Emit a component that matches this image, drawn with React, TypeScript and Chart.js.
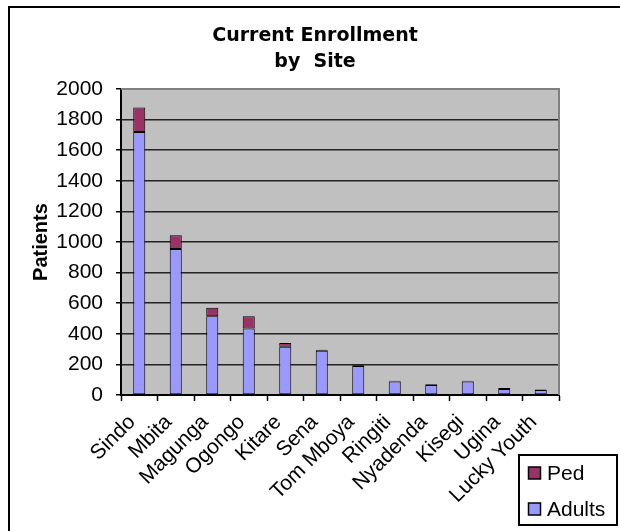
import { useEffect, useRef } from "react";
import { Chart, registerables } from "chart.js";

Chart.register(...registerables);

const sites = [
  "Sindo",
  "Mbita",
  "Magunga",
  "Ogongo",
  "Kitare",
  "Sena",
  "Tom Mboya",
  "Ringiti",
  "Nyadenda",
  "Kisegi",
  "Ugina",
  "Lucky Youth",
];
const adults = [1720, 955, 515, 435, 315, 290, 190, 88, 65, 88, 40, 32];
const ped = [160, 90, 55, 80, 25, 5, 5, 5, 5, 5, 6, 4];
const titleLines = ["Current Enrollment", "by  Site"];
const yAxisTitle = "Patients";
const yMin = 0;
const yMax = 2000;
const yStep = 200;

const ARIAL = "'Liberation Sans', Arial, sans-serif";

const plotFrame = {
  id: "plotFrame",
  beforeDraw(chart: any) {
    const { ctx, chartArea: a } = chart;
    ctx.save();
    ctx.fillStyle = "#C0C0C0";
    ctx.fillRect(a.left, a.top, a.right - a.left, a.bottom - a.top);
    ctx.restore();
  },
  beforeDatasetsDraw(chart: any) {
    const { ctx, chartArea: a } = chart;
    ctx.save();
    ctx.strokeStyle = "#808080";
    ctx.lineWidth = 2;
    ctx.beginPath();
    ctx.moveTo(a.left, a.top);
    ctx.lineTo(a.right, a.top);
    ctx.lineTo(a.right, a.bottom);
    ctx.stroke();
    ctx.restore();
  },
};

const boxLegend = {
  id: "boxLegend",
  afterDraw(chart: any) {
    const { ctx } = chart;
    const x = chart.width - 101;
    const y = chart.height - 76;
    const w = 98;
    const h = 70;
    ctx.save();
    ctx.fillStyle = "#fff";
    ctx.fillRect(x, y, w, h);
    ctx.strokeStyle = "#000";
    ctx.lineWidth = 2;
    ctx.strokeRect(x, y, w, h);
    const items = chart.data.datasets.slice().reverse();
    items.forEach((ds: any, i: number) => {
      const cy = y + 18 + i * 36;
      ctx.fillStyle = ds.backgroundColor;
      ctx.fillRect(x + 9.5, cy - 6, 12, 12);
      ctx.strokeStyle = "#000";
      ctx.lineWidth = 1.5;
      ctx.strokeRect(x + 9.5, cy - 6, 12, 12);
      ctx.fillStyle = "#000";
      ctx.font = `21px ${ARIAL}`;
      ctx.textBaseline = "middle";
      ctx.textAlign = "left";
      ctx.fillText(ds.label, x + 28, cy + 1);
    });
    ctx.restore();
  },
};

export default function App() {
  const ref = useRef<HTMLCanvasElement | null>(null);

  useEffect(() => {
    if (!ref.current) return;
    const chart = new Chart(ref.current, {
      type: "bar",
      data: {
        labels: sites,
        datasets: [
          {
            label: "Adults",
            data: adults,
            backgroundColor: "#9999FF",
            borderColor: "#000",
            borderWidth: 1,
            borderSkipped: false,
            categoryPercentage: 1,
            barPercentage: 0.33,
          },
          {
            label: "Ped",
            data: ped,
            backgroundColor: "#993366",
            borderColor: "#000",
            borderWidth: 1,
            borderSkipped: false,
            categoryPercentage: 1,
            barPercentage: 0.33,
          },
        ],
      },
      options: {
        animation: false,
        responsive: false,
        maintainAspectRatio: false,
        layout: { padding: { left: 0, right: 0, top: 0, bottom: 0 } },
        plugins: {
          legend: { display: false },
          tooltip: { enabled: false },
          title: {
            display: true,
            text: titleLines,
            color: "#000",
            font: { family: "'DejaVu Sans', sans-serif", size: 19, weight: "bold", lineHeight: 1.37 },
            padding: { top: 15, bottom: 14 },
          },
        },
        scales: {
          x: {
            stacked: true,
            afterFit(scale: any) {
              scale.height = 136;
            },
            grid: {
              display: true,
              drawOnChartArea: false,
              drawTicks: true,
              tickLength: 6,
              tickColor: "#000",
              tickWidth: 1.5,
              offset: true,
            },
            border: { display: true, color: "#000", width: 2 },
            ticks: {
              autoSkip: false,
              maxRotation: 45,
              minRotation: 45,
              padding: 9,
              labelOffset: -7,
              color: "#000",
              font: { family: ARIAL, size: 21 },
            },
          },
          y: {
            stacked: true,
            min: yMin,
            max: yMax,
            afterFit(scale: any) {
              scale.width = 111;
            },
            ticks: {
              stepSize: yStep,
              padding: 13,
              color: "#000",
              font: { family: ARIAL, size: 21 },
              callback: (v: any) => String(v),
            },
            grid: {
              color: (c: any) => (c.tick && c.tick.value === yMax ? "rgba(0,0,0,0)" : "#222"),
              lineWidth: 1.5,
              tickLength: 5,
              tickColor: "#000",
              tickWidth: 1.5,
            },
            border: { display: true, color: "#000", width: 2 },
            title: {
              display: true,
              text: yAxisTitle,
              color: "#000",
              font: { family: ARIAL, size: 20, weight: "bold" },
              padding: { top: 19, bottom: 0 },
            },
          },
          yRight: {
            position: "right",
            display: true,
            afterFit(scale: any) {
              scale.width = 61;
            },
            ticks: { display: false },
            grid: { display: false },
            border: { display: false },
          },
        },
      },
      plugins: [plotFrame, boxLegend],
    });
    return () => chart.destroy();
  }, []);

  return (
    <div
      style={{
        position: "absolute",
        left: 8,
        top: 6,
        width: 610,
        height: 523,
        borderLeft: "2px solid #000",
        borderTop: "2px solid #000",
        background: "#fff",
      }}
    >
      <canvas ref={ref} width={610} height={523} style={{ display: "block" }} />
    </div>
  );
}
